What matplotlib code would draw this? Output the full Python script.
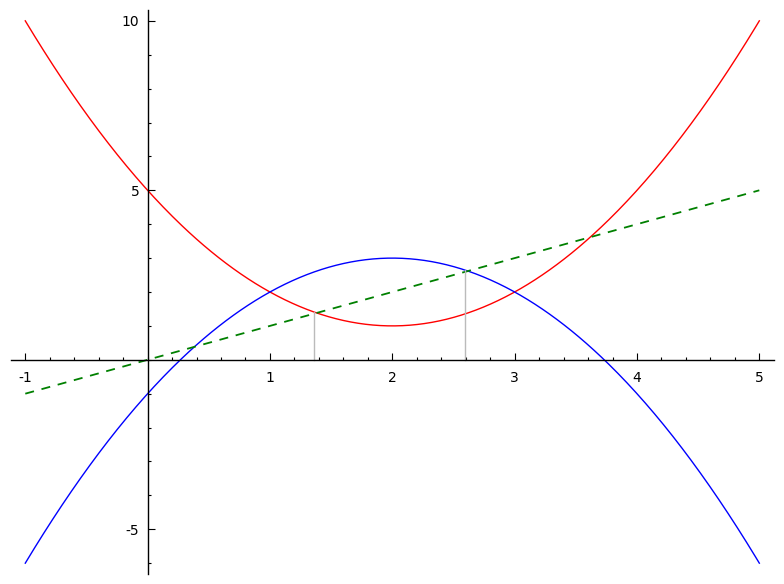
import numpy as np
import matplotlib
matplotlib.use("Agg")
import matplotlib.pyplot as plt
from matplotlib.ticker import MultipleLocator, FixedLocator

# Data
x_range = [-1, 5]
red_coeffs = [1, -4, 5]      # (x-2)^2 + 1
blue_coeffs = [-1, 4, -1]    # 3 - (x-2)^2
green_coeffs = [1, 0]        # y = x
gray_x = [1.36, 2.595]
gray_top = [1.41, 2.65]
x_tick_vals = [-1, 1, 2, 3, 4, 5]
x_tick_labels = ["-1", "1", "2", "3", "4", "5"]
y_tick_vals = [-5, 5, 10]
y_tick_labels = ["-5", "5", "10"]

fig = plt.figure(figsize=(7.84, 5.84), dpi=100)
ax = fig.add_axes([10.6 / 784, 10 / 584, (774 - 10.6) / 784, (574 - 10) / 584])

xs = np.linspace(x_range[0], x_range[1], 400)
ax.plot(xs, np.polyval(red_coeffs, xs), color="red", lw=1)
ax.plot(xs, np.polyval(blue_coeffs, xs), color="blue", lw=1)
ax.plot(xs, np.polyval(green_coeffs, xs), color="green", lw=1.3, linestyle=(0, (5, 4.3)))
for gx, gt in zip(gray_x, gray_top):
    ax.plot([gx, gx], [0, gt], color="#bbbbbb", lw=1)

ax.set_xlim(-1.12, 5.12)
ax.set_ylim(-6.32, 10.32)

for s in ["top", "right"]:
    ax.spines[s].set_visible(False)
ax.spines["left"].set_position(("data", 0))
ax.spines["bottom"].set_position(("data", 0))
ax.spines["left"].set_linewidth(1)
ax.spines["bottom"].set_linewidth(1)

ax.xaxis.set_major_locator(FixedLocator(x_tick_vals))
ax.set_xticklabels(x_tick_labels)
ax.xaxis.set_minor_locator(MultipleLocator(0.2))
ax.yaxis.set_major_locator(FixedLocator(y_tick_vals))
ax.set_yticklabels(y_tick_labels)
ax.yaxis.set_minor_locator(MultipleLocator(1))

ax.tick_params(axis="both", which="major", direction="in", length=5, width=0.8, labelsize=10, pad=6)
ax.tick_params(axis="both", which="minor", direction="in", length=2.5, width=0.8)
ax.tick_params(axis="x", which="major", pad=8)

fig.savefig("out.png", dpi=100)
